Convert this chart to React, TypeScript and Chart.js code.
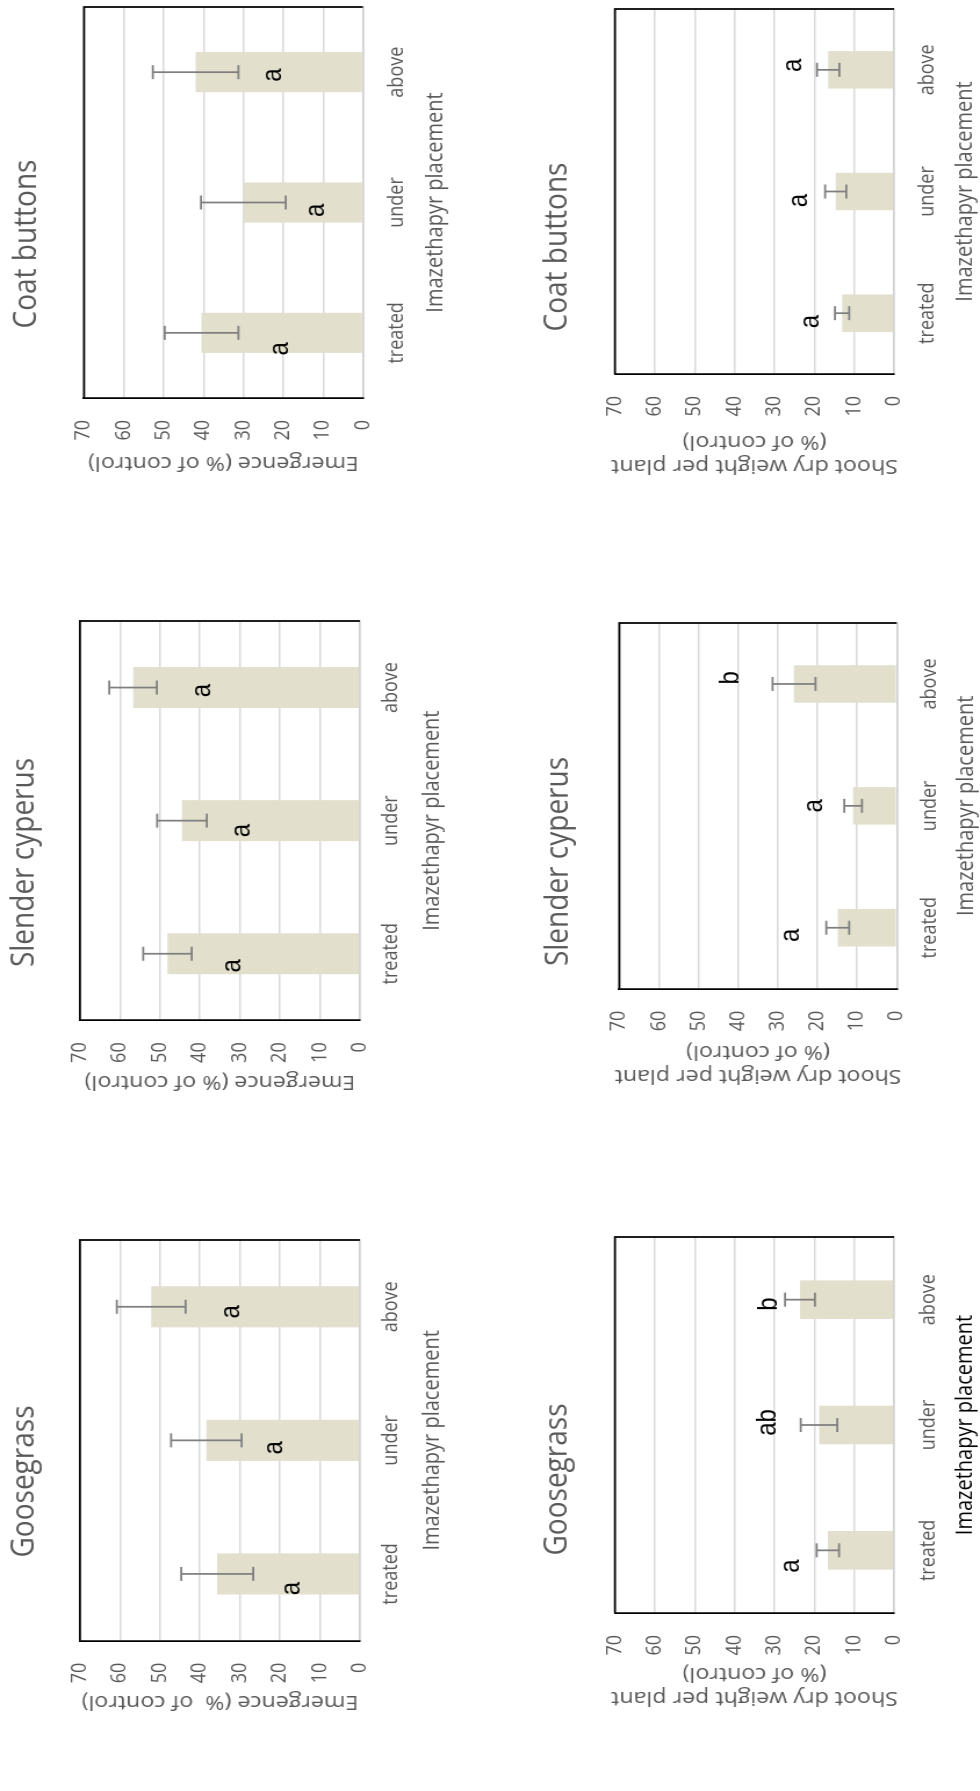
import { useEffect, useRef } from "react";
import { Chart, registerables } from "chart.js";

Chart.register(...registerables);

// ---------- data ----------
const placements = ["treated", "under", "above"];
const valueTicks = [0, 10, 20, 30, 40, 50, 60, 70];

const goosegrassEmergence = [35.7, 38.4, 52.2];
const goosegrassEmergenceSE = [9.0, 8.8, 8.6];
const goosegrassEmergenceGroups = ["a", "a", "a"];

const slenderEmergence = [48.1, 44.5, 56.7];
const slenderEmergenceSE = [6.05, 6.2, 5.95];
const slenderEmergenceGroups = ["a", "a", "a"];

const coatEmergence = [40.5, 30.0, 42.0];
const coatEmergenceSE = [9.25, 10.65, 10.75];
const coatEmergenceGroups = ["a", "a", "a"];

const goosegrassShoot = [16.6, 18.8, 23.6];
const goosegrassShootSE = [2.8, 4.6, 3.75];
const goosegrassShootGroups = ["a", "ab", "b"];

const slenderShoot = [14.9, 11.0, 25.9];
const slenderShootSE = [2.9, 2.25, 5.45];
const slenderShootGroups = ["a", "a", "b"];

const coatShoot = [13.0, 14.6, 16.5];
const coatShootSE = [1.8, 2.65, 2.8];
const coatShootGroups = ["a", "a", "a"];

// ---------- layout (unrotated figure coordinates) ----------
const K = 490 / 422; // vertical stretch of the original figure
const ROW_H = 422;

type PanelCfg = {
  key: string;
  title: string;
  yTitle: string | string[];
  values: number[];
  se: number[];
  groups: string[];
  row: number;
  titleCx: number;
  titleMid: number;
  plotL: number;
  plotR: number;
  plotT: number;
  plotB: number;
  catMid: number;
  xTitleMid: number;
  yTitleX: number;
  xTitleColor: string;
  letterAt: number[];
  letterShift: number[];
};

const SHOOT_TITLE = ["Shoot dry weight per plant", "(% of control)"];

const PANELS: PanelCfg[] = [
  {
    key: "ggE", title: "Goosegrass", yTitle: "Emergence (%  of control)",
    values: goosegrassEmergence, se: goosegrassEmergenceSE, groups: goosegrassEmergenceGroups,
    row: 0, titleCx: 309, titleMid: 24, plotL: 150.3, plotR: 550.3, plotT: 80, plotB: 360,
    catMid: 391.5, xTitleMid: 432, yTitleX: 89, xTitleColor: "#595959",
    letterAt: [17.1, 21.5, 32.1], letterShift: [-0.11, -0.056, -0.038],
  },
  {
    key: "scE", title: "Slender cyperus", yTitle: "Emergence (% of control)",
    values: slenderEmergence, se: slenderEmergenceSE, groups: slenderEmergenceGroups,
    row: 0, titleCx: 929, titleMid: 24, plotL: 770.7, plotR: 1170.7, plotT: 80, plotB: 360,
    catMid: 391.5, xTitleMid: 432, yTitleX: 709, xTitleColor: "#595959",
    letterAt: [31.7, 29.5, 39.5], letterShift: [-0.09, -0.075, -0.022],
  },
  {
    key: "cbE", title: "Coat buttons", yTitle: "Emergence (% of control)",
    values: coatEmergence, se: coatEmergenceSE, groups: coatEmergenceGroups,
    row: 0, titleCx: 1547, titleMid: 27, plotL: 1393, plotR: 1784, plotT: 84, plotB: 363,
    catMid: 396.5, xTitleMid: 436, yTitleX: 1328.5, xTitleColor: "#595959",
    letterAt: [20.7, 11.6, 22.4], letterShift: [-0.123, -0.061, -0.023],
  },
  {
    key: "ggS", title: "Goosegrass", yTitle: SHOOT_TITLE,
    values: goosegrassShoot, se: goosegrassShootSE, groups: goosegrassShootGroups,
    row: 1, titleCx: 312, titleMid: 557, plotL: 178, plotR: 554.7, plotT: 615, plotB: 894,
    catMid: 928.5, xTitleMid: 965, yTitleX: 93, xTitleColor: "#000000",
    letterAt: [25.7, 31.6, 31.3], letterShift: [-0.125, 0.02, -0.036],
  },
  {
    key: "scS", title: "Slender cyperus", yTitle: SHOOT_TITLE,
    values: slenderShoot, se: slenderShootSE, groups: slenderShootGroups,
    row: 1, titleCx: 929, titleMid: 559, plotL: 802.3, plotR: 1167.3, plotT: 619.3, plotB: 896.7,
    catMid: 930, xTitleMid: 968, yTitleX: 715, xTitleColor: "#595959",
    letterAt: [26.5, 20.9, 41.9], letterShift: [-0.062, 0, 0.05],
  },
  {
    key: "cbS", title: "Coat buttons", yTitle: SHOOT_TITLE,
    values: coatShoot, se: coatShootSE, groups: coatShootGroups,
    row: 1, titleCx: 1544, titleMid: 557, plotL: 1417, plotR: 1782, plotT: 615, plotB: 894,
    catMid: 927.5, xTitleMid: 965, yTitleX: 1325, xTitleColor: "#595959",
    letterAt: [20.9, 23.7, 25.3], letterShift: [-0.07, -0.074, 0.037],
  },
];

const PAD = 8;
const TITLE_SIZE = 28;
const TICK_SIZE = 18;
const AXIS_TITLE_SIZE = 20;
const TEXT_GRAY = "#595959";
const FONT = "'Open Sans', sans-serif";

function geom(p: PanelCfg) {
  const cx1 = p.plotR + PAD;
  const cx0 = 2 * p.titleCx - cx1;
  const left = Math.round(cx0);
  const w = Math.round(cx1 - cx0);
  return { left, w, top: p.row * ROW_H, h: ROW_H, cy0: p.row * 490 };
}

function makeChart(canvas: HTMLCanvasElement, p: PanelCfg) {
  const g = geom(p);
  const toLocalY = (y: number) => (y - g.cy0) / K;
  const plotT = toLocalY(p.plotT);
  const plotB = toLocalY(p.plotB);
  const titleMid = toLocalY(p.titleMid);
  const titleLH = TITLE_SIZE * 1.2;
  const tickLH = TICK_SIZE * 1.2;
  const axLH = AXIS_TITLE_SIZE * 1.2;
  const yAxisW = p.plotL - g.left - PAD;
  const xAxisH = g.h - plotB;
  const xTickPad = toLocalY(p.catMid) - plotB - tickLH / 2;
  const xTitlePadBottom = Math.max(0, g.h - toLocalY(p.xTitleMid) - axLH / 2);
  const yTitlePadTop = p.yTitleX - g.left - PAD - axLH / 2;

  const decorations = {
    id: "decor_" + p.key,
    afterDatasetsDraw(chart: any) {
      const { ctx, chartArea } = chart;
      const { left, right, top, bottom } = chartArea;
      const xs = chart.scales.x;
      const ys = chart.scales.y;
      ctx.save();
      // frame (top + right)
      ctx.strokeStyle = "#000000";
      ctx.lineWidth = 1.75;
      ctx.beginPath();
      ctx.moveTo(left, top);
      ctx.lineTo(right, top);
      ctx.lineTo(right, bottom);
      ctx.stroke();
      // error bars
      const meta = chart.getDatasetMeta(0);
      ctx.strokeStyle = "#7f7f7f";
      ctx.lineWidth = 1.75;
      meta.data.forEach((bar: any, i: number) => {
        const v = p.values[i];
        const e = p.se[i];
        const yHi = ys.getPixelForValue(v + e);
        const yLo = ys.getPixelForValue(v - e);
        const x = bar.x;
        ctx.beginPath();
        ctx.moveTo(x, yHi);
        ctx.lineTo(x, yLo);
        ctx.moveTo(x - 7, yHi);
        ctx.lineTo(x + 7, yHi);
        ctx.moveTo(x - 7, yLo);
        ctx.lineTo(x + 7, yLo);
        ctx.stroke();
      });
      // significance letters
      const cw = xs.getPixelForValue(1) - xs.getPixelForValue(0);
      ctx.fillStyle = "#000000";
      ctx.font = '24px "Liberation Sans", Arial, sans-serif';
      ctx.textAlign = "center";
      ctx.textBaseline = "middle";
      p.groups.forEach((t, i) => {
        ctx.fillText(
          t,
          xs.getPixelForValue(i) + p.letterShift[i] * cw,
          ys.getPixelForValue(p.letterAt[i])
        );
      });
      ctx.restore();
    },
  };

  return new Chart(canvas, {
    type: "bar",
    data: {
      labels: placements,
      datasets: [
        {
          data: p.values,
          backgroundColor: "#e2dfcd",
          borderWidth: 0,
          barPercentage: 1 / 3.25,
          categoryPercentage: 1,
        },
      ],
    },
    options: {
      animation: false,
      responsive: false,
      devicePixelRatio: 1,
      events: [],
      layout: { padding: { left: PAD, right: PAD, top: 0, bottom: 0 } },
      plugins: {
        legend: { display: false },
        tooltip: { enabled: false },
        title: {
          display: true,
          text: p.title,
          color: TEXT_GRAY,
          font: { family: FONT, size: TITLE_SIZE, weight: "normal" as any },
          padding: { top: titleMid - titleLH / 2, bottom: plotT - titleMid - titleLH / 2 },
        },
      },
      scales: {
        x: {
          type: "category",
          grid: { display: false, drawTicks: false },
          border: { display: true, color: "#d0d0d0", width: 1.5 },
          ticks: {
            color: TEXT_GRAY,
            font: { family: FONT, size: TICK_SIZE },
            padding: xTickPad,
            maxRotation: 0,
            minRotation: 0,
            autoSkip: false,
          },
          title: {
            display: true,
            text: "Imazethapyr placement",
            color: p.xTitleColor,
            font: { family: FONT, size: AXIS_TITLE_SIZE },
            padding: { top: 0, bottom: xTitlePadBottom },
          },
          afterFit: (s: any) => {
            s.height = xAxisH;
          },
        },
        y: {
          min: valueTicks[0],
          max: valueTicks[valueTicks.length - 1],
          grid: { color: "#d9d9d9", lineWidth: 1.5, drawTicks: false },
          border: { display: true, color: "#000000", width: 1.75 },
          ticks: {
            stepSize: valueTicks[1] - valueTicks[0],
            color: TEXT_GRAY,
            font: { family: FONT, size: TICK_SIZE },
            padding: 22,
          },
          title: {
            display: true,
            text: p.yTitle,
            color: TEXT_GRAY,
            font: { family: FONT, size: AXIS_TITLE_SIZE },
            padding: { top: yTitlePadTop, bottom: 0 },
          },
          afterFit: (s: any) => {
            s.width = yAxisW;
          },
        },
      },
    },
    plugins: [decorations],
  });
}

export default function App() {
  const refs = useRef<(HTMLCanvasElement | null)[]>([]);

  useEffect(() => {
    const charts = PANELS.map((p, i) => makeChart(refs.current[i] as HTMLCanvasElement, p));
    return () => {
      charts.forEach((c) => c.destroy());
    };
  }, []);

  return (
    <div
      style={{
        position: "absolute",
        left: 0,
        top: 0,
        width: 1791,
        height: ROW_H * 2,
        background: "#ffffff",
        transformOrigin: "0 0",
        transform: `translateY(1791px) rotate(-90deg) scaleY(${K})`,
      }}
    >
      {PANELS.map((p, i) => {
        const g = geom(p);
        return (
          <canvas
            key={p.key}
            ref={(el) => {
              refs.current[i] = el;
            }}
            width={g.w}
            height={g.h}
            style={{ position: "absolute", left: g.left, top: g.top, width: g.w, height: g.h }}
          />
        );
      })}
    </div>
  );
}
